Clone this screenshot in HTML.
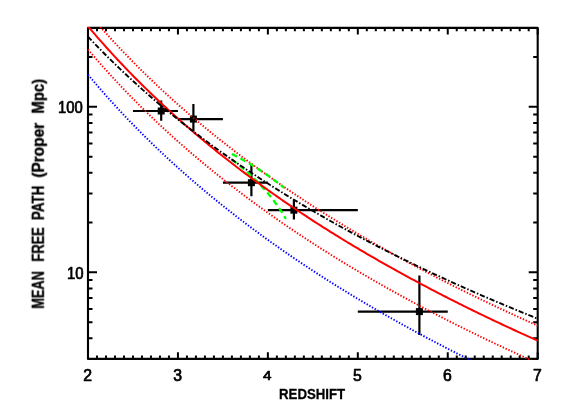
<!DOCTYPE html>
<html><head><meta charset="utf-8"><title>Mean free path</title>
<style>
html,body{margin:0;padding:0;background:#fff;}
svg{display:block;}
text{font-family:"Liberation Sans",sans-serif;fill:#000;}
.tl,.ax{filter:grayscale(1);}
.tl text{font-size:15.8px;stroke:#000;stroke-width:0.7px;stroke-linejoin:round;}
.ax text{font-size:inherit;font-weight:bold;stroke:#000;stroke-width:inherit;}
.ax{font-size:15.4px;stroke-width:0.3px;}
</style></head><body>
<svg width="564" height="415" viewBox="0 0 564 415">
<rect width="564" height="415" fill="#fff"/>
<defs><clipPath id="c"><rect x="87.0" y="26.9" width="451.70000000000005" height="333.0"/></clipPath></defs>
<path d="M88.00 358.90 v-6.60 M88.00 27.90 v6.60 M96.99 358.90 v-3.30 M96.99 27.90 v3.30 M105.99 358.90 v-3.30 M105.99 27.90 v3.30 M114.98 358.90 v-3.30 M114.98 27.90 v3.30 M123.98 358.90 v-3.30 M123.98 27.90 v3.30 M132.97 358.90 v-3.30 M132.97 27.90 v3.30 M141.96 358.90 v-3.30 M141.96 27.90 v3.30 M150.96 358.90 v-3.30 M150.96 27.90 v3.30 M159.95 358.90 v-3.30 M159.95 27.90 v3.30 M168.95 358.90 v-3.30 M168.95 27.90 v3.30 M177.94 358.90 v-6.60 M177.94 27.90 v6.60 M186.93 358.90 v-3.30 M186.93 27.90 v3.30 M195.93 358.90 v-3.30 M195.93 27.90 v3.30 M204.92 358.90 v-3.30 M204.92 27.90 v3.30 M213.92 358.90 v-3.30 M213.92 27.90 v3.30 M222.91 358.90 v-3.30 M222.91 27.90 v3.30 M231.90 358.90 v-3.30 M231.90 27.90 v3.30 M240.90 358.90 v-3.30 M240.90 27.90 v3.30 M249.89 358.90 v-3.30 M249.89 27.90 v3.30 M258.89 358.90 v-3.30 M258.89 27.90 v3.30 M267.88 358.90 v-6.60 M267.88 27.90 v6.60 M276.87 358.90 v-3.30 M276.87 27.90 v3.30 M285.87 358.90 v-3.30 M285.87 27.90 v3.30 M294.86 358.90 v-3.30 M294.86 27.90 v3.30 M303.86 358.90 v-3.30 M303.86 27.90 v3.30 M312.85 358.90 v-3.30 M312.85 27.90 v3.30 M321.84 358.90 v-3.30 M321.84 27.90 v3.30 M330.84 358.90 v-3.30 M330.84 27.90 v3.30 M339.83 358.90 v-3.30 M339.83 27.90 v3.30 M348.83 358.90 v-3.30 M348.83 27.90 v3.30 M357.82 358.90 v-6.60 M357.82 27.90 v6.60 M366.81 358.90 v-3.30 M366.81 27.90 v3.30 M375.81 358.90 v-3.30 M375.81 27.90 v3.30 M384.80 358.90 v-3.30 M384.80 27.90 v3.30 M393.80 358.90 v-3.30 M393.80 27.90 v3.30 M402.79 358.90 v-3.30 M402.79 27.90 v3.30 M411.78 358.90 v-3.30 M411.78 27.90 v3.30 M420.78 358.90 v-3.30 M420.78 27.90 v3.30 M429.77 358.90 v-3.30 M429.77 27.90 v3.30 M438.77 358.90 v-3.30 M438.77 27.90 v3.30 M447.76 358.90 v-6.60 M447.76 27.90 v6.60 M456.75 358.90 v-3.30 M456.75 27.90 v3.30 M465.75 358.90 v-3.30 M465.75 27.90 v3.30 M474.74 358.90 v-3.30 M474.74 27.90 v3.30 M483.74 358.90 v-3.30 M483.74 27.90 v3.30 M492.73 358.90 v-3.30 M492.73 27.90 v3.30 M501.72 358.90 v-3.30 M501.72 27.90 v3.30 M510.72 358.90 v-3.30 M510.72 27.90 v3.30 M519.71 358.90 v-3.30 M519.71 27.90 v3.30 M528.71 358.90 v-3.30 M528.71 27.90 v3.30 M537.70 358.90 v-6.60 M537.70 27.90 v6.60 M88.00 358.90 h4.50 M537.70 358.90 h-4.50 M88.00 338.22 h4.50 M537.70 338.22 h-4.50 M88.00 322.18 h4.50 M537.70 322.18 h-4.50 M88.00 309.08 h4.50 M537.70 309.08 h-4.50 M88.00 298.00 h4.50 M537.70 298.00 h-4.50 M88.00 288.40 h4.50 M537.70 288.40 h-4.50 M88.00 279.94 h4.50 M537.70 279.94 h-4.50 M88.00 272.36 h9.00 M537.70 272.36 h-9.00 M88.00 222.54 h4.50 M537.70 222.54 h-4.50 M88.00 193.40 h4.50 M537.70 193.40 h-4.50 M88.00 172.72 h4.50 M537.70 172.72 h-4.50 M88.00 156.68 h4.50 M537.70 156.68 h-4.50 M88.00 143.58 h4.50 M537.70 143.58 h-4.50 M88.00 132.50 h4.50 M537.70 132.50 h-4.50 M88.00 122.90 h4.50 M537.70 122.90 h-4.50 M88.00 114.44 h4.50 M537.70 114.44 h-4.50 M88.00 106.86 h9.00 M537.70 106.86 h-9.00 M88.00 57.04 h4.50 M537.70 57.04 h-4.50 M88.00 27.90 h4.50 M537.70 27.90 h-4.50" stroke="#000" stroke-width="2" fill="none"/>
<rect x="88.0" y="27.9" width="449.70000000000005" height="331.0" fill="none" stroke="#000" stroke-width="2.1" stroke-linejoin="round"/>
<path d="M132.97 111.00 H177.94 M161.20 100.60 V120.80 M177.94 119.10 H222.91 M193.40 104.10 V131.70 M222.91 182.70 H267.88 M251.40 163.90 V196.30 M267.88 210.20 H357.82 M293.90 200.10 V219.50 M357.82 311.60 H447.76 M419.40 275.60 V334.90" stroke="#000" stroke-width="2.2" fill="none"/>
<rect x="157.70" y="107.50" width="7.0" height="7.0" fill="#000"/><rect x="189.90" y="115.60" width="7.0" height="7.0" fill="#000"/><rect x="247.90" y="179.20" width="7.0" height="7.0" fill="#000"/><rect x="290.40" y="206.70" width="7.0" height="7.0" fill="#000"/><rect x="415.90" y="308.10" width="7.0" height="7.0" fill="#000"/>
<g clip-path="url(#c)" fill="none">
<path d="M88.00 74.65 L90.25 77.33 L92.50 79.99 L94.75 82.63 L96.99 85.25 L99.24 87.85 L101.49 90.43 L103.74 92.98 L105.99 95.52 L108.24 98.04 L110.48 100.53 L112.73 103.01 L114.98 105.47 L117.23 107.91 L119.48 110.34 L121.73 112.74 L123.98 115.13 L126.22 117.50 L128.47 119.85 L130.72 122.19 L132.97 124.50 L135.22 126.81 L137.47 129.09 L139.72 131.36 L141.96 133.62 L144.21 135.85 L146.46 138.08 L148.71 140.28 L150.96 142.48 L153.21 144.66 L155.45 146.82 L157.70 148.97 L159.95 151.10 L162.20 153.22 L164.45 155.33 L166.70 157.42 L168.95 159.50 L171.19 161.57 L173.44 163.62 L175.69 165.67 L177.94 167.69 L180.19 169.71 L182.44 171.71 L184.69 173.70 L186.93 175.68 L189.18 177.65 L191.43 179.60 L193.68 181.54 L195.93 183.47 L198.18 185.39 L200.43 187.30 L202.67 189.20 L204.92 191.08 L207.17 192.96 L209.42 194.82 L211.67 196.68 L213.92 198.52 L216.16 200.35 L218.41 202.18 L220.66 203.99 L222.91 205.79 L225.16 207.58 L227.41 209.36 L229.66 211.14 L231.90 212.90 L234.15 214.65 L236.40 216.39 L238.65 218.13 L240.90 219.85 L243.15 221.57 L245.40 223.28 L247.64 224.97 L249.89 226.66 L252.14 228.34 L254.39 230.02 L256.64 231.68 L258.89 233.33 L261.13 234.98 L263.38 236.62 L265.63 238.25 L267.88 239.87 L270.13 241.48 L272.38 243.09 L274.63 244.68 L276.87 246.27 L279.12 247.85 L281.37 249.43 L283.62 250.99 L285.87 252.55 L288.12 254.10 L290.37 255.65 L292.61 257.18 L294.86 258.71 L297.11 260.24 L299.36 261.75 L301.61 263.26 L303.86 264.76 L306.10 266.25 L308.35 267.74 L310.60 269.22 L312.85 270.69 L315.10 272.16 L317.35 273.62 L319.60 275.08 L321.84 276.52 L324.09 277.96 L326.34 279.40 L328.59 280.83 L330.84 282.25 L333.09 283.66 L335.34 285.07 L337.58 286.48 L339.83 287.87 L342.08 289.26 L344.33 290.65 L346.58 292.03 L348.83 293.40 L351.07 294.77 L353.32 296.13 L355.57 297.49 L357.82 298.84 L360.07 300.18 L362.32 301.52 L364.57 302.86 L366.81 304.18 L369.06 305.51 L371.31 306.82 L373.56 308.14 L375.81 309.44 L378.06 310.74 L380.31 312.04 L382.55 313.33 L384.80 314.62 L387.05 315.90 L389.30 317.18 L391.55 318.45 L393.80 319.71 L396.04 320.97 L398.29 322.23 L400.54 323.48 L402.79 324.73 L405.04 325.97 L407.29 327.20 L409.54 328.44 L411.78 329.66 L414.03 330.89 L416.28 332.11 L418.53 333.32 L420.78 334.53 L423.03 335.73 L425.28 336.93 L427.52 338.13 L429.77 339.32 L432.02 340.51 L434.27 341.69 L436.52 342.87 L438.77 344.04 L441.01 345.21 L443.26 346.38 L445.51 347.54 L447.76 348.70 L450.01 349.85 L452.26 351.00 L454.51 352.14 L456.75 353.28 L459.00 354.42 L461.25 355.55 L463.50 356.68 L465.75 357.81 L468.00 358.93 L470.25 360.05 L472.49 361.16 L474.74 362.27 L476.99 363.37 L479.24 364.48 L481.49 365.58 L483.74 366.67 L485.98 367.76 L488.23 368.85 L490.48 369.93 L492.73 371.01 L494.98 372.09 L497.23 373.16 L499.48 374.23 L501.72 375.30 L503.97 376.36 L506.22 377.42 L508.47 378.47 L510.72 379.52 L512.97 380.57 L515.22 381.62 L517.46 382.66 L519.71 383.70 L521.96 384.73 L524.21 385.76 L526.46 386.79 L528.71 387.82 L530.95 388.84 L533.20 389.86 L535.45 390.87 L537.70 391.89" stroke="#0000ff" stroke-width="1.9" stroke-dasharray="1.4 1.7"/>
<path d="M88.00 12.64 L90.25 15.29 L92.50 17.92 L94.75 20.52 L96.99 23.11 L99.24 25.67 L101.49 28.21 L103.74 30.74 L105.99 33.24 L108.24 35.72 L110.48 38.19 L112.73 40.63 L114.98 43.06 L117.23 45.47 L119.48 47.86 L121.73 50.23 L123.98 52.59 L126.22 54.92 L128.47 57.25 L130.72 59.55 L132.97 61.84 L135.22 64.11 L137.47 66.36 L139.72 68.60 L141.96 70.83 L144.21 73.04 L146.46 75.23 L148.71 77.41 L150.96 79.57 L153.21 81.72 L155.45 83.85 L157.70 85.98 L159.95 88.08 L162.20 90.17 L164.45 92.25 L166.70 94.32 L168.95 96.37 L171.19 98.41 L173.44 100.44 L175.69 102.45 L177.94 104.45 L180.19 106.44 L182.44 108.42 L184.69 110.38 L186.93 112.33 L189.18 114.27 L191.43 116.20 L193.68 118.12 L195.93 120.02 L198.18 121.92 L200.43 123.80 L202.67 125.67 L204.92 127.53 L207.17 129.38 L209.42 131.22 L211.67 133.05 L213.92 134.87 L216.16 136.68 L218.41 138.47 L220.66 140.26 L222.91 142.04 L225.16 143.81 L227.41 145.57 L229.66 147.31 L231.90 149.05 L234.15 150.78 L236.40 152.50 L238.65 154.21 L240.90 155.92 L243.15 157.61 L245.40 159.29 L247.64 160.97 L249.89 162.63 L252.14 164.29 L254.39 165.94 L256.64 167.58 L258.89 169.22 L261.13 170.84 L263.38 172.46 L265.63 174.06 L267.88 175.66 L270.13 177.25 L272.38 178.84 L274.63 180.41 L276.87 181.98 L279.12 183.54 L281.37 185.10 L283.62 186.64 L285.87 188.18 L288.12 189.71 L290.37 191.23 L292.61 192.75 L294.86 194.26 L297.11 195.76 L299.36 197.25 L301.61 198.74 L303.86 200.22 L306.10 201.70 L308.35 203.16 L310.60 204.62 L312.85 206.08 L315.10 207.53 L317.35 208.97 L319.60 210.40 L321.84 211.83 L324.09 213.25 L326.34 214.67 L328.59 216.07 L330.84 217.48 L333.09 218.87 L335.34 220.26 L337.58 221.65 L339.83 223.03 L342.08 224.40 L344.33 225.77 L346.58 227.13 L348.83 228.48 L351.07 229.83 L353.32 231.18 L355.57 232.51 L357.82 233.85 L360.07 235.17 L362.32 236.49 L364.57 237.81 L366.81 239.12 L369.06 240.43 L371.31 241.73 L373.56 243.02 L375.81 244.31 L378.06 245.59 L380.31 246.87 L382.55 248.15 L384.80 249.42 L387.05 250.68 L389.30 251.94 L391.55 253.19 L393.80 254.44 L396.04 255.69 L398.29 256.93 L400.54 258.16 L402.79 259.39 L405.04 260.62 L407.29 261.84 L409.54 263.05 L411.78 264.26 L414.03 265.47 L416.28 266.67 L418.53 267.87 L420.78 269.06 L423.03 270.25 L425.28 271.43 L427.52 272.61 L429.77 273.79 L432.02 274.96 L434.27 276.13 L436.52 277.29 L438.77 278.45 L441.01 279.60 L443.26 280.75 L445.51 281.90 L447.76 283.04 L450.01 284.18 L452.26 285.31 L454.51 286.44 L456.75 287.57 L459.00 288.69 L461.25 289.81 L463.50 290.92 L465.75 292.03 L468.00 293.14 L470.25 294.24 L472.49 295.34 L474.74 296.43 L476.99 297.52 L479.24 298.61 L481.49 299.69 L483.74 300.77 L485.98 301.85 L488.23 302.92 L490.48 303.99 L492.73 305.06 L494.98 306.12 L497.23 307.18 L499.48 308.23 L501.72 309.28 L503.97 310.33 L506.22 311.38 L508.47 312.42 L510.72 313.46 L512.97 314.49 L515.22 315.52 L517.46 316.55 L519.71 317.57 L521.96 318.60 L524.21 319.61 L526.46 320.63 L528.71 321.64 L530.95 322.65 L533.20 323.65 L535.45 324.65 L537.70 325.65" stroke="#ff0000" stroke-width="1.9" stroke-dasharray="1.4 1.7"/>
<path d="M88.00 49.42 L90.25 52.07 L92.50 54.71 L94.75 57.32 L96.99 59.91 L99.24 62.48 L101.49 65.03 L103.74 67.55 L105.99 70.06 L108.24 72.55 L110.48 75.02 L112.73 77.47 L114.98 79.91 L117.23 82.32 L119.48 84.72 L121.73 87.09 L123.98 89.45 L126.22 91.80 L128.47 94.12 L130.72 96.43 L132.97 98.73 L135.22 101.00 L137.47 103.26 L139.72 105.51 L141.96 107.74 L144.21 109.95 L146.46 112.15 L148.71 114.33 L150.96 116.50 L153.21 118.65 L155.45 120.79 L157.70 122.92 L159.95 125.03 L162.20 127.13 L164.45 129.21 L166.70 131.28 L168.95 133.34 L171.19 135.38 L173.44 137.41 L175.69 139.43 L177.94 141.43 L180.19 143.43 L182.44 145.41 L184.69 147.38 L186.93 149.33 L189.18 151.28 L191.43 153.21 L193.68 155.13 L195.93 157.04 L198.18 158.94 L200.43 160.83 L202.67 162.70 L204.92 164.57 L207.17 166.42 L209.42 168.26 L211.67 170.10 L213.92 171.92 L216.16 173.73 L218.41 175.53 L220.66 177.33 L222.91 179.11 L225.16 180.88 L227.41 182.64 L229.66 184.39 L231.90 186.14 L234.15 187.87 L236.40 189.60 L238.65 191.31 L240.90 193.02 L243.15 194.71 L245.40 196.40 L247.64 198.08 L249.89 199.75 L252.14 201.41 L254.39 203.06 L256.64 204.71 L258.89 206.34 L261.13 207.97 L263.38 209.59 L265.63 211.20 L267.88 212.81 L270.13 214.40 L272.38 215.99 L274.63 217.57 L276.87 219.14 L279.12 220.70 L281.37 222.26 L283.62 223.81 L285.87 225.35 L288.12 226.89 L290.37 228.41 L292.61 229.93 L294.86 231.44 L297.11 232.95 L299.36 234.45 L301.61 235.94 L303.86 237.42 L306.10 238.90 L308.35 240.37 L310.60 241.83 L312.85 243.29 L315.10 244.74 L317.35 246.19 L319.60 247.62 L321.84 249.05 L324.09 250.48 L326.34 251.90 L328.59 253.31 L330.84 254.72 L333.09 256.12 L335.34 257.51 L337.58 258.90 L339.83 260.28 L342.08 261.65 L344.33 263.02 L346.58 264.39 L348.83 265.75 L351.07 267.10 L353.32 268.45 L355.57 269.79 L357.82 271.12 L360.07 272.45 L362.32 273.78 L364.57 275.10 L366.81 276.41 L369.06 277.72 L371.31 279.02 L373.56 280.32 L375.81 281.61 L378.06 282.90 L380.31 284.18 L382.55 285.46 L384.80 286.73 L387.05 287.99 L389.30 289.26 L391.55 290.51 L393.80 291.76 L396.04 293.01 L398.29 294.25 L400.54 295.49 L402.79 296.72 L405.04 297.95 L407.29 299.17 L409.54 300.39 L411.78 301.61 L414.03 302.82 L416.28 304.02 L418.53 305.22 L420.78 306.42 L423.03 307.61 L425.28 308.79 L427.52 309.98 L429.77 311.15 L432.02 312.33 L434.27 313.50 L436.52 314.66 L438.77 315.82 L441.01 316.98 L443.26 318.13 L445.51 319.28 L447.76 320.43 L450.01 321.57 L452.26 322.70 L454.51 323.84 L456.75 324.96 L459.00 326.09 L461.25 327.21 L463.50 328.32 L465.75 329.44 L468.00 330.55 L470.25 331.65 L472.49 332.75 L474.74 333.85 L476.99 334.94 L479.24 336.03 L481.49 337.12 L483.74 338.20 L485.98 339.28 L488.23 340.35 L490.48 341.43 L492.73 342.49 L494.98 343.56 L497.23 344.62 L499.48 345.68 L501.72 346.73 L503.97 347.78 L506.22 348.83 L508.47 349.87 L510.72 350.91 L512.97 351.95 L515.22 352.98 L517.46 354.01 L519.71 355.04 L521.96 356.06 L524.21 357.08 L526.46 358.10 L528.71 359.11 L530.95 360.12 L533.20 361.13 L535.45 362.13 L537.70 363.14" stroke="#ff0000" stroke-width="1.9" stroke-dasharray="1.4 1.7"/>
<path d="M231.90 153.94 L233.21 154.62 L234.51 155.31 L235.82 156.00 L237.12 156.70 L238.42 157.40 L239.73 158.11 L241.03 158.83 L242.34 159.56 L243.64 160.29 L244.95 161.03 L246.25 161.78 L247.55 162.54 L248.86 163.30 L250.16 164.07 L251.47 164.85 L252.77 165.64 L254.07 166.44 L255.38 167.25 L256.68 168.07 L257.99 168.89 L259.29 169.73 L260.59 170.57 L261.90 171.43 L263.20 172.30 L264.51 173.17 L265.81 174.06 L267.12 174.96 L268.42 175.87 L269.72 176.79 L271.03 177.72 L272.33 178.67 L273.64 179.63 L274.94 180.60 L276.24 181.58 L277.55 182.58 L278.85 183.59 L280.16 184.62 L281.46 185.66 L282.77 186.72 L284.07 187.79" stroke="#00ff00" stroke-width="2.3" stroke-dasharray="5.8 3.9"/>
<path d="M231.90 159.61 L233.25 160.63 L234.60 161.66 L235.95 162.70 L237.30 163.76 L238.65 164.84 L240.00 165.93 L241.35 167.04 L242.70 168.17 L244.05 169.31 L245.40 170.48 L246.74 171.66 L248.09 172.86 L249.44 174.08 L250.79 175.33 L252.14 176.59 L253.49 177.88 L254.84 179.19 L256.19 180.53 L257.54 181.89 L258.89 183.28 L260.24 184.70 L261.58 186.14 L262.93 187.61 L264.28 189.12 L265.63 190.65 L266.98 192.22 L268.33 193.83 L269.68 195.47 L271.03 197.15 L272.38 198.87 L273.73 200.63 L275.08 202.44 L276.42 204.29 L277.77 206.19 L279.12 208.15 L280.47 210.16 L281.82 212.22 L283.17 214.35 L284.52 216.54 L285.87 218.80" stroke="#00ff00" stroke-width="2.3" stroke-dasharray="5.8 3.9"/>
<path d="M88.00 26.28 L90.25 28.94 L92.50 31.57 L94.75 34.19 L96.99 36.79 L99.24 39.36 L101.49 41.92 L103.74 44.45 L105.99 46.96 L108.24 49.46 L110.48 51.93 L112.73 54.39 L114.98 56.83 L117.23 59.25 L119.48 61.65 L121.73 64.03 L123.98 66.40 L126.22 68.75 L128.47 71.08 L130.72 73.39 L132.97 75.69 L135.22 77.97 L137.47 80.24 L139.72 82.49 L141.96 84.72 L144.21 86.94 L146.46 89.14 L148.71 91.33 L150.96 93.51 L153.21 95.66 L155.45 97.81 L157.70 99.94 L159.95 102.05 L162.20 104.16 L164.45 106.24 L166.70 108.32 L168.95 110.38 L171.19 112.43 L173.44 114.46 L175.69 116.49 L177.94 118.50 L180.19 120.49 L182.44 122.48 L184.69 124.45 L186.93 126.41 L189.18 128.36 L191.43 130.30 L193.68 132.22 L195.93 134.14 L198.18 136.04 L200.43 137.93 L202.67 139.81 L204.92 141.68 L207.17 143.54 L209.42 145.39 L211.67 147.22 L213.92 149.05 L216.16 150.87 L218.41 152.67 L220.66 154.47 L222.91 156.25 L225.16 158.03 L227.41 159.80 L229.66 161.55 L231.90 163.30 L234.15 165.04 L236.40 166.77 L238.65 168.48 L240.90 170.19 L243.15 171.89 L245.40 173.59 L247.64 175.27 L249.89 176.94 L252.14 178.61 L254.39 180.26 L256.64 181.91 L258.89 183.55 L261.13 185.18 L263.38 186.81 L265.63 188.42 L267.88 190.03 L270.13 191.63 L272.38 193.22 L274.63 194.80 L276.87 196.38 L279.12 197.94 L281.37 199.50 L283.62 201.06 L285.87 202.60 L288.12 204.14 L290.37 205.67 L292.61 207.19 L294.86 208.71 L297.11 210.22 L299.36 211.72 L301.61 213.21 L303.86 214.70 L306.10 216.18 L308.35 217.65 L310.60 219.12 L312.85 220.58 L315.10 222.04 L317.35 223.48 L319.60 224.92 L321.84 226.36 L324.09 227.79 L326.34 229.21 L328.59 230.62 L330.84 232.03 L333.09 233.44 L335.34 234.83 L337.58 236.22 L339.83 237.61 L342.08 238.99 L344.33 240.36 L346.58 241.73 L348.83 243.09 L351.07 244.44 L353.32 245.79 L355.57 247.14 L357.82 248.48 L360.07 249.81 L362.32 251.14 L364.57 252.46 L366.81 253.77 L369.06 255.08 L371.31 256.39 L373.56 257.69 L375.81 258.99 L378.06 260.28 L380.31 261.56 L382.55 262.84 L384.80 264.12 L387.05 265.39 L389.30 266.65 L391.55 267.91 L393.80 269.16 L396.04 270.41 L398.29 271.66 L400.54 272.90 L402.79 274.13 L405.04 275.36 L407.29 276.59 L409.54 277.81 L411.78 279.03 L414.03 280.24 L416.28 281.45 L418.53 282.65 L420.78 283.85 L423.03 285.04 L425.28 286.23 L427.52 287.42 L429.77 288.60 L432.02 289.77 L434.27 290.95 L436.52 292.11 L438.77 293.28 L441.01 294.44 L443.26 295.59 L445.51 296.74 L447.76 297.89 L450.01 299.03 L452.26 300.17 L454.51 301.31 L456.75 302.44 L459.00 303.56 L461.25 304.69 L463.50 305.81 L465.75 306.92 L468.00 308.03 L470.25 309.14 L472.49 310.24 L474.74 311.34 L476.99 312.44 L479.24 313.53 L481.49 314.62 L483.74 315.70 L485.98 316.79 L488.23 317.86 L490.48 318.94 L492.73 320.01 L494.98 321.07 L497.23 322.14 L499.48 323.20 L501.72 324.25 L503.97 325.31 L506.22 326.36 L508.47 327.40 L510.72 328.44 L512.97 329.48 L515.22 330.52 L517.46 331.55 L519.71 332.58 L521.96 333.61 L524.21 334.63 L526.46 335.65 L528.71 336.66 L530.95 337.68 L533.20 338.69 L535.45 339.69 L537.70 340.70" stroke="#ff0000" stroke-width="2.0"/>
<path d="M88.00 36.69 L90.25 39.07 L92.50 41.44 L94.75 43.79 L96.99 46.11 L99.24 48.42 L101.49 50.71 L103.74 52.99 L105.99 55.24 L108.24 57.48 L110.48 59.70 L112.73 61.90 L114.98 64.09 L117.23 66.26 L119.48 68.41 L121.73 70.55 L123.98 72.67 L126.22 74.78 L128.47 76.87 L130.72 78.94 L132.97 81.00 L135.22 83.05 L137.47 85.08 L139.72 87.10 L141.96 89.10 L144.21 91.09 L146.46 93.07 L148.71 95.03 L150.96 96.98 L153.21 98.92 L155.45 100.84 L157.70 102.75 L159.95 104.65 L162.20 106.53 L164.45 108.41 L166.70 110.27 L168.95 112.12 L171.19 113.95 L173.44 115.78 L175.69 117.59 L177.94 119.40 L180.19 121.19 L182.44 122.97 L184.69 124.74 L186.93 126.49 L189.18 128.24 L191.43 129.98 L193.68 131.71 L195.93 133.42 L198.18 135.13 L200.43 136.83 L202.67 138.51 L204.92 140.19 L207.17 141.85 L209.42 143.51 L211.67 145.16 L213.92 146.80 L216.16 148.43 L218.41 150.05 L220.66 151.66 L222.91 153.26 L225.16 154.85 L227.41 156.44 L229.66 158.01 L231.90 159.58 L234.15 161.14 L236.40 162.69 L238.65 164.23 L240.90 165.76 L243.15 167.29 L245.40 168.80 L247.64 170.31 L249.89 171.81 L252.14 173.31 L254.39 174.79 L256.64 176.27 L258.89 177.74 L261.13 179.20 L263.38 180.66 L265.63 182.11 L267.88 183.55 L270.13 184.98 L272.38 186.41 L274.63 187.83 L276.87 189.24 L279.12 190.65 L281.37 192.05 L283.62 193.44 L285.87 194.83 L288.12 196.20 L290.37 197.58 L292.61 198.94 L294.86 200.30 L297.11 201.66 L299.36 203.00 L301.61 204.34 L303.86 205.68 L306.10 207.00 L308.35 208.33 L310.60 209.64 L312.85 210.95 L315.10 212.26 L317.35 213.55 L319.60 214.85 L321.84 216.13 L324.09 217.41 L326.34 218.69 L328.59 219.96 L330.84 221.22 L333.09 222.48 L335.34 223.73 L337.58 224.98 L339.83 226.22 L342.08 227.46 L344.33 228.69 L346.58 229.91 L348.83 231.14 L351.07 232.35 L353.32 233.56 L355.57 234.77 L357.82 235.97 L360.07 237.16 L362.32 238.35 L364.57 239.54 L366.81 240.72 L369.06 241.90 L371.31 243.07 L373.56 244.23 L375.81 245.39 L378.06 246.55 L380.31 247.70 L382.55 248.85 L384.80 250.00 L387.05 251.13 L389.30 252.27 L391.55 253.40 L393.80 254.52 L396.04 255.64 L398.29 256.76 L400.54 257.87 L402.79 258.98 L405.04 260.08 L407.29 261.18 L409.54 262.28 L411.78 263.37 L414.03 264.46 L416.28 265.54 L418.53 266.62 L420.78 267.69 L423.03 268.76 L425.28 269.83 L427.52 270.89 L429.77 271.95 L432.02 273.01 L434.27 274.06 L436.52 275.11 L438.77 276.15 L441.01 277.19 L443.26 278.23 L445.51 279.26 L447.76 280.29 L450.01 281.31 L452.26 282.33 L454.51 283.35 L456.75 284.36 L459.00 285.38 L461.25 286.38 L463.50 287.39 L465.75 288.39 L468.00 289.38 L470.25 290.38 L472.49 291.37 L474.74 292.35 L476.99 293.33 L479.24 294.31 L481.49 295.29 L483.74 296.26 L485.98 297.23 L488.23 298.20 L490.48 299.16 L492.73 300.12 L494.98 301.08 L497.23 302.03 L499.48 302.98 L501.72 303.93 L503.97 304.87 L506.22 305.82 L508.47 306.75 L510.72 307.69 L512.97 308.62 L515.22 309.55 L517.46 310.48 L519.71 311.40 L521.96 312.32 L524.21 313.24 L526.46 314.15 L528.71 315.06 L530.95 315.97 L533.20 316.87 L535.45 317.78 L537.70 318.68" stroke="#000" stroke-width="1.9" stroke-dasharray="5.2 1.9 1.5 1.9"/>
</g>
<g class="tl">
<text x="87.60" y="380.9" text-anchor="middle">2</text><text x="177.54" y="380.9" text-anchor="middle">3</text><text x="267.18" y="380.1" text-anchor="middle" style="font-size:13.6px" transform="translate(267.18 0) scale(1.12 1) translate(-267.18 0)">4</text><text x="357.42" y="380.9" text-anchor="middle">5</text><text x="447.36" y="380.9" text-anchor="middle">6</text><text x="537.30" y="380.9" text-anchor="middle">7</text>
<text x="58.0" y="113.2" textLength="24.8" lengthAdjust="spacingAndGlyphs">100</text>
<text x="67.0" y="278.5" textLength="16.6" lengthAdjust="spacingAndGlyphs">10</text>
</g>
<g class="ax">
<text x="279.0" y="398.5" textLength="66.2" lengthAdjust="spacingAndGlyphs">REDSHIFT</text>
<g transform="translate(43.8 308.6) rotate(-90)" style="font-size:16px;stroke-width:0.4px">
<text x="0" y="0" textLength="37.5" lengthAdjust="spacingAndGlyphs">MEAN</text>
<text x="47" y="0" textLength="34.5" lengthAdjust="spacingAndGlyphs">FREE</text>
<text x="88.5" y="0" textLength="34.4" lengthAdjust="spacingAndGlyphs">PATH</text>
<text x="130.9" y="0" textLength="55" lengthAdjust="spacingAndGlyphs">(Proper</text>
<text x="195.1" y="0" textLength="34.7" lengthAdjust="spacingAndGlyphs">Mpc)</text>
</g>
</g>
</svg>
</body></html>
